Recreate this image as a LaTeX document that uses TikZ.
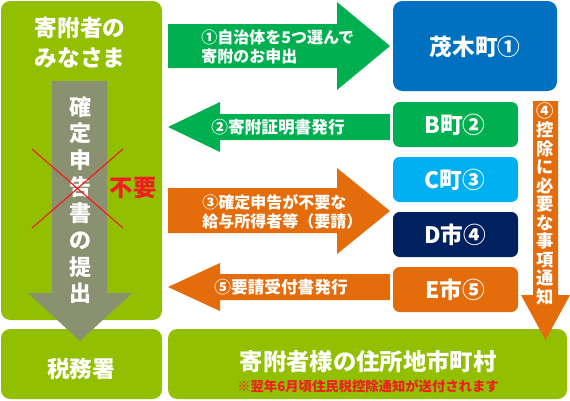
\documentclass[tikz,border=0pt]{standalone}
\usepackage{fontspec}
\setmainfont{Noto Sans CJK JP}
\definecolor{lime}{RGB}{146,192,0}
\definecolor{grayarrow}{RGB}{138,145,112}
\definecolor{greenA}{RGB}{0,176,80}
\definecolor{orangeA}{RGB}{228,108,10}
\definecolor{blueA}{RGB}{0,112,192}
\definecolor{lblueA}{RGB}{0,176,240}
\definecolor{navyA}{RGB}{0,32,96}
\definecolor{redA}{RGB}{240,30,30}
\begin{document}
\begin{tikzpicture}[x=0.75pt,y=-0.75pt,
  box/.style={rounded corners=7pt,inner sep=0pt},
  wtxt/.style={text=white,font=\bfseries\fontsize{17}{20}\selectfont,inner sep=0pt},
  atxt/.style={text=white,font=\bfseries\fontsize{12}{14.5}\selectfont,inner sep=0pt,align=left}]
\useasboundingbox (0,0) rectangle (570,400);
% boxes
\fill[lime,rounded corners=7pt] (1,1) rectangle (162,320);
\fill[lime,rounded corners=7pt] (1,329) rectangle (162,399);
\fill[lime,rounded corners=7pt] (168,329) rectangle (567,399);
\fill[blueA,rounded corners=7pt] (393,1) rectangle (557,91);
\fill[greenA,rounded corners=5pt] (393,102) rectangle (518,147);
\fill[lblueA,rounded corners=5pt] (393,157) rectangle (518,202);
\fill[navyA,rounded corners=5pt] (393,212) rectangle (518,257);
\fill[orangeA,rounded corners=5pt] (393,267) rectangle (518,312);
% arrows
\fill[grayarrow] (52,81) -- (107,81) -- (107,293) -- (132,293) -- (80,341) -- (28,293) -- (52,293) -- cycle;
\fill[orangeA] (533,101) -- (558,101) -- (558,295) -- (570,295) -- (545.5,340) -- (521,295) -- (533,295) -- cycle;
\fill[greenA] (168,24) -- (337,24) -- (337,2) -- (390,46) -- (337,90) -- (337,68) -- (168,68) -- cycle;
\fill[greenA] (390,114) -- (220,114) -- (220,102) -- (168,127) -- (220,152) -- (220,140) -- (390,140) -- cycle;
\fill[orangeA] (168,188) -- (337,188) -- (337,168) -- (390,211) -- (337,254) -- (337,233) -- (168,233) -- cycle;
\fill[orangeA] (390,274) -- (220,274) -- (220,263) -- (168,287) -- (220,311) -- (220,300) -- (390,300) -- cycle;
% texts
\node[wtxt,align=center,font=\bfseries\fontsize{17}{22.5}\selectfont] (donor) at (80,43) {寄附者の\\みなさま};
\node[wtxt,align=center,font=\bfseries\fontsize{16.5}{20}\selectfont] (shinkoku) at (80,200) {確\\定\\申\\告\\書\\の\\提\\出};
\draw[redA,line width=0.9pt] (32,149) -- (123,228);
\draw[redA,line width=0.9pt] (123,149) -- (32,228);
\node[inner sep=0pt,text=redA,font=\bfseries\fontsize{17.5}{20}\selectfont] (fuyo) at (133,188) {不要};
\node[atxt,anchor=west] (t1) at (201,47) {①自治体を5つ選んで\\寄附のお申出};
\node[atxt,font=\bfseries\fontsize{12.5}{14.5}\selectfont] (t2) at (278,127) {②寄附証明書発行};
\node[atxt,anchor=west] (t3) at (202,212) {③確定申告が不要な\\給与所得者等（要請）};
\node[atxt,font=\bfseries\fontsize{12.5}{14.5}\selectfont] (t5) at (281,287) {⑤要請受付書発行};
\node[wtxt] (motegi) at (475,47) {茂木町①};
\node[wtxt] (b) at (455,125) {B町②};
\node[wtxt] (c) at (455,180) {C町③};
\node[wtxt] (d) at (455,235) {D市④};
\node[wtxt] (e) at (455,290) {E市⑤};
\node[wtxt,align=center,font=\bfseries\fontsize{13}{13.9}\selectfont] (t4) at (545.5,204) {④\\控\\除\\に\\必\\要\\な\\事\\項\\通\\知};
\node[wtxt] (zeimu) at (81,369) {税務署};
\node[wtxt,font=\bfseries\fontsize{17.5}{20}\selectfont] (shicho) at (368,362) {寄附者様の住所地市町村};
\node[inner sep=0pt,text=redA,font=\bfseries\fontsize{10}{12}\selectfont] (note) at (368,386) {※翌年6月頃住民税控除通知が送付されます};
\end{tikzpicture}
\end{document}
